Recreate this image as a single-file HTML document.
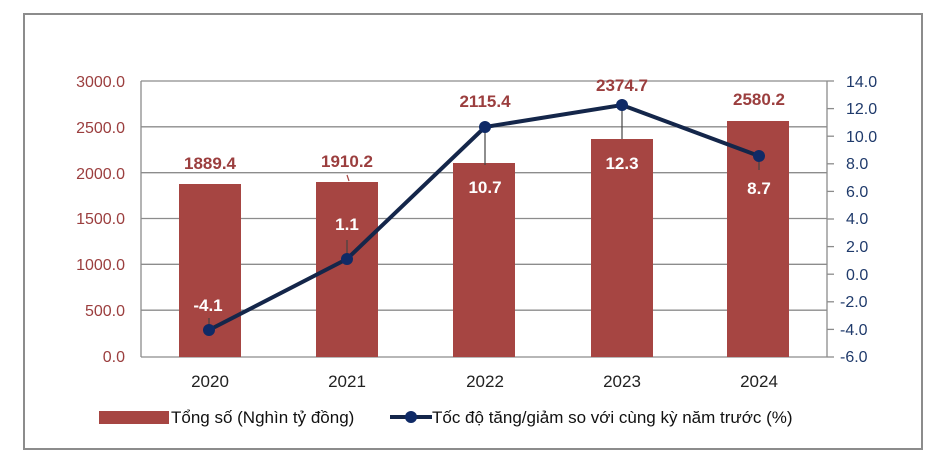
<!DOCTYPE html>
<html><head><meta charset="utf-8"><style>
body{margin:0;background:#fff;}
svg{display:block;font-family:"Liberation Sans",Arial,sans-serif;}
</style></head><body>
<svg width="946" height="470" viewBox="0 0 946 470">
<rect x="24" y="14" width="898" height="435" fill="#fff" stroke="#8c8c8c" stroke-width="2"/>
<g stroke="#8c8c8c" stroke-width="1.3">
<line x1="141" y1="81" x2="827" y2="81"/>
<line x1="141" y1="126.8" x2="827" y2="126.8"/>
<line x1="141" y1="172.7" x2="827" y2="172.7"/>
<line x1="141" y1="218.5" x2="827" y2="218.5"/>
<line x1="141" y1="264.3" x2="827" y2="264.3"/>
<line x1="141" y1="310.2" x2="827" y2="310.2"/>
<line x1="141" y1="81" x2="141" y2="357"/>
<line x1="827" y1="81" x2="827" y2="357"/>
<line x1="141" y1="357" x2="827" y2="357"/>
</g>
<g stroke="#8c8c8c" stroke-width="1.3">
<line x1="827" y1="81" x2="834" y2="81"/><line x1="827" y1="108.6" x2="834" y2="108.6"/>
<line x1="827" y1="136.2" x2="834" y2="136.2"/><line x1="827" y1="163.8" x2="834" y2="163.8"/>
<line x1="827" y1="191.4" x2="834" y2="191.4"/><line x1="827" y1="219" x2="834" y2="219"/>
<line x1="827" y1="246.6" x2="834" y2="246.6"/><line x1="827" y1="274.2" x2="834" y2="274.2"/>
<line x1="827" y1="301.8" x2="834" y2="301.8"/><line x1="827" y1="329.4" x2="834" y2="329.4"/>
<line x1="827" y1="357" x2="834" y2="357"/>
</g>
<g font-size="16" fill="#9b3e3e" text-anchor="end">
<text x="125" y="87">3000.0</text><text x="125" y="133">2500.0</text><text x="125" y="179">2000.0</text>
<text x="125" y="224">1500.0</text><text x="125" y="270">1000.0</text><text x="125" y="316">500.0</text>
<text x="125" y="362">0.0</text>
</g>
<g font-size="16" fill="#1f3a6b" text-anchor="start">
<text x="846" y="87">14.0</text><text x="846" y="114">12.0</text><text x="846" y="142">10.0</text>
<text x="846" y="169">8.0</text><text x="846" y="197">6.0</text><text x="846" y="224">4.0</text>
<text x="846" y="252">2.0</text><text x="846" y="280">0.0</text><text x="840" y="307">-2.0</text>
<text x="840" y="335">-4.0</text><text x="840" y="362">-6.0</text>
</g>
<g fill="#a64542">
<rect x="179" y="184" width="62" height="173"/>
<rect x="316" y="182" width="62" height="175"/>
<rect x="453" y="163" width="62" height="194"/>
<rect x="591" y="139" width="62" height="218"/>
<rect x="727" y="121" width="62" height="236"/>
</g>
<g font-size="17" fill="#222" text-anchor="middle">
<text x="210" y="387">2020</text><text x="347" y="387">2021</text><text x="485" y="387">2022</text>
<text x="622" y="387">2023</text><text x="759" y="387">2024</text>
</g>
<g stroke="#444" stroke-width="1.2">
<line x1="209" y1="318" x2="209" y2="330"/>
<line x1="347" y1="240" x2="347" y2="258"/>
<line x1="485" y1="127" x2="485" y2="165"/>
<line x1="622" y1="105" x2="622" y2="139"/>
<line x1="759" y1="156" x2="759" y2="170"/>
<line x1="347" y1="175" x2="349" y2="181" stroke="#a64542"/>
</g>
<polyline points="209,330 347,259 485,127 622,105 759,156" fill="none" stroke="#14264a" stroke-width="4"/>
<g fill="#0f2a66">
<circle cx="209" cy="330" r="6"/><circle cx="347" cy="259" r="6"/><circle cx="485" cy="127" r="6"/>
<circle cx="622" cy="105" r="6"/><circle cx="759" cy="156" r="6"/>
</g>
<g font-size="17" font-weight="bold" fill="#9b3e3e" text-anchor="middle">
<text x="210" y="169">1889.4</text><text x="347" y="167">1910.2</text><text x="485" y="107">2115.4</text>
<text x="622" y="91">2374.7</text><text x="759" y="105">2580.2</text>
</g>
<g font-size="17" font-weight="bold" fill="#fff" text-anchor="middle">
<text x="208" y="311">-4.1</text><text x="347" y="230">1.1</text><text x="485" y="193">10.7</text>
<text x="622" y="169">12.3</text><text x="759" y="194">8.7</text>
</g>
<rect x="99" y="411" width="70" height="13" fill="#a64542"/>
<text x="171" y="423" font-size="17" fill="#111">Tổng số (Nghìn tỷ đồng)</text>
<line x1="390" y1="417" x2="432" y2="417" stroke="#14264a" stroke-width="4"/>
<circle cx="411" cy="417" r="6" fill="#0f2a66"/>
<text x="432" y="423" font-size="17" fill="#111">Tốc độ tăng/giảm so với cùng kỳ năm trước (%)</text>
</svg>
</body></html>
